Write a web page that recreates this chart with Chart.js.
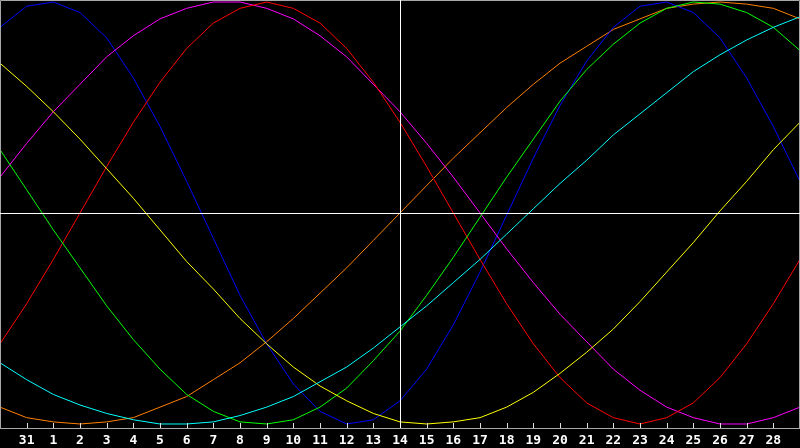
<!DOCTYPE html>
<html>
<head>
<meta charset="utf-8">
<script src="https://cdn.jsdelivr.net/npm/chart.js@4/dist/chart.umd.min.js"></script>
<style>
  html, body { margin: 0; padding: 0; background: #000; }
  #wrap { width: 800px; height: 448px; }
</style>
</head>
<body>
<div id="wrap"><canvas id="chart"></canvas></div>
<script>
// days shown, from the 30th of last month to the 29th
const days = ['30', '31', '1', '2', '3', '4', '5', '6', '7', '8', '9', '10', '11', '12', '13', '14',
  '15', '16', '17', '18', '19', '20', '21', '22', '23', '24', '25', '26', '27', '28', '29'];

const blueVals = [0.88, 0.98, 1.0, 0.95, 0.83, 0.64, 0.41, 0.15, -0.12, -0.39, -0.62, -0.81, -0.94, -1.0, -0.98, -0.89,
  -0.74, -0.53, -0.28, -0.01, 0.26, 0.51, 0.72, 0.88, 0.98, 1.0, 0.95, 0.83, 0.64, 0.41, 0.15];
const magentaVals = [0.17, 0.33, 0.48, 0.61, 0.74, 0.84, 0.92, 0.97, 1.0, 1.0, 0.97, 0.92, 0.84, 0.74, 0.61, 0.48,
  0.33, 0.17, 0.0, -0.17, -0.33, -0.48, -0.61, -0.74, -0.84, -0.92, -0.97, -1.0, -1.0, -0.97, -0.92];
const redVals = [-0.62, -0.43, -0.22, 0.0, 0.22, 0.43, 0.62, 0.78, 0.9, 0.97, 1.0, 0.97, 0.9, 0.78, 0.62, 0.43,
  0.22, 0.0, -0.22, -0.43, -0.62, -0.78, -0.9, -0.97, -1.0, -0.97, -0.9, -0.78, -0.62, -0.43, -0.22];
const yellowVals = [0.71, 0.6, 0.48, 0.35, 0.21, 0.07, -0.08, -0.23, -0.36, -0.5, -0.62, -0.73, -0.82, -0.89, -0.95, -0.99,
  -1.0, -0.99, -0.97, -0.92, -0.85, -0.76, -0.66, -0.55, -0.42, -0.28, -0.14, 0.01, 0.15, 0.3, 0.43];
const greenVals = [0.3, 0.11, -0.08, -0.26, -0.44, -0.6, -0.74, -0.86, -0.94, -0.99, -1.0, -0.98, -0.92, -0.83, -0.7, -0.56,
  -0.39, -0.21, -0.02, 0.17, 0.35, 0.53, 0.68, 0.8, 0.9, 0.97, 1.0, 0.99, 0.95, 0.88, 0.77];
const cyanVals = [-0.71, -0.79, -0.86, -0.91, -0.95, -0.98, -1.0, -1.0, -0.99, -0.96, -0.92, -0.87, -0.8, -0.73, -0.64, -0.54,
  -0.44, -0.33, -0.22, -0.1, 0.02, 0.14, 0.25, 0.37, 0.47, 0.57, 0.67, 0.75, 0.82, 0.88, 0.93];
const orangeVals = [-0.92, -0.97, -0.99, -1.0, -0.99, -0.97, -0.92, -0.87, -0.79, -0.71, -0.61, -0.5, -0.38, -0.26, -0.13, 0.0,
  0.13, 0.26, 0.38, 0.5, 0.61, 0.71, 0.79, 0.87, 0.92, 0.97, 0.99, 1.0, 0.99, 0.97, 0.92];

const seriesList = [
  { vals: cyanVals, color: '#00ffff' },
  { vals: yellowVals, color: '#ffff00' },
  { vals: greenVals, color: '#00ff00' },
  { vals: redVals, color: '#ff0000' },
  { vals: magentaVals, color: '#ff00ff' },
  { vals: blueVals, color: '#0000ff' },
  { vals: orangeVals, color: '#ff8000' }
];

// frame, tick marks and the white cross through the middle
const framePlugin = {
  id: 'frame',
  afterDatasetsDraw(chart) {
    const ctx = chart.ctx;
    const area = chart.chartArea;
    const xs = chart.scales.x;
    const ys = chart.scales.y;
    ctx.save();
    ctx.lineWidth = 1;

    ctx.strokeStyle = '#a8a8a8';
    ctx.beginPath();
    ctx.moveTo(area.left + 0.5, area.bottom);
    ctx.lineTo(area.left + 0.5, area.top + 0.5);
    ctx.lineTo(area.right - 0.5, area.top + 0.5);
    ctx.lineTo(area.right - 0.5, area.bottom);
    ctx.moveTo(area.left, area.bottom + 0.5);
    ctx.lineTo(area.right, area.bottom + 0.5);
    ctx.stroke();

    ctx.strokeStyle = '#e0e0e0';
    ctx.beginPath();
    for (let i = 1; i < days.length - 1; i++) {
      const px = Math.round(xs.getPixelForValue(i)) + 0.5;
      ctx.moveTo(px, area.bottom - 5);
      ctx.lineTo(px, area.bottom);
    }
    ctx.stroke();

    ctx.strokeStyle = '#ffffff';
    const cx = Math.round(xs.getPixelForValue(15)) + 0.5;
    const cy = Math.round(ys.getPixelForValue(0)) + 0.5;
    ctx.beginPath();
    ctx.moveTo(cx, area.top);
    ctx.lineTo(cx, area.bottom);
    ctx.moveTo(area.left, cy);
    ctx.lineTo(area.right, cy);
    ctx.stroke();
    ctx.restore();
  }
};

new Chart(document.getElementById('chart'), {
  type: 'line',
  data: {
    labels: days,
    datasets: seriesList.map(s => ({
      data: s.vals,
      borderColor: s.color,
      borderWidth: 1,
      pointRadius: 0,
      tension: 0,
      fill: false
    }))
  },
  options: {
    responsive: true,
    maintainAspectRatio: false,
    devicePixelRatio: 1,
    animation: false,
    layout: { padding: 0 },
    plugins: { legend: { display: false }, tooltip: { enabled: false } },
    scales: {
      x: {
        offset: false,
        grid: { display: false, drawTicks: false },
        border: { display: false },
        ticks: {
          color: '#ffffff',
          font: { family: 'DejaVu Sans Mono', size: 13, weight: 'bold' },
          padding: 5,
          autoSkip: false,
          maxRotation: 0,
          callback: function (v, i) {
            return (i === 0 || i === days.length - 1) ? '' : days[i];
          }
        },
        afterFit: function (scale) {
          scale.height = 20;
          scale.paddingLeft = 0;
          scale.paddingRight = 0;
        }
      },
      y: {
        display: false,
        min: -1.019,
        max: 1.0095
      }
    }
  },
  plugins: [framePlugin]
});
</script>
</body>
</html>
